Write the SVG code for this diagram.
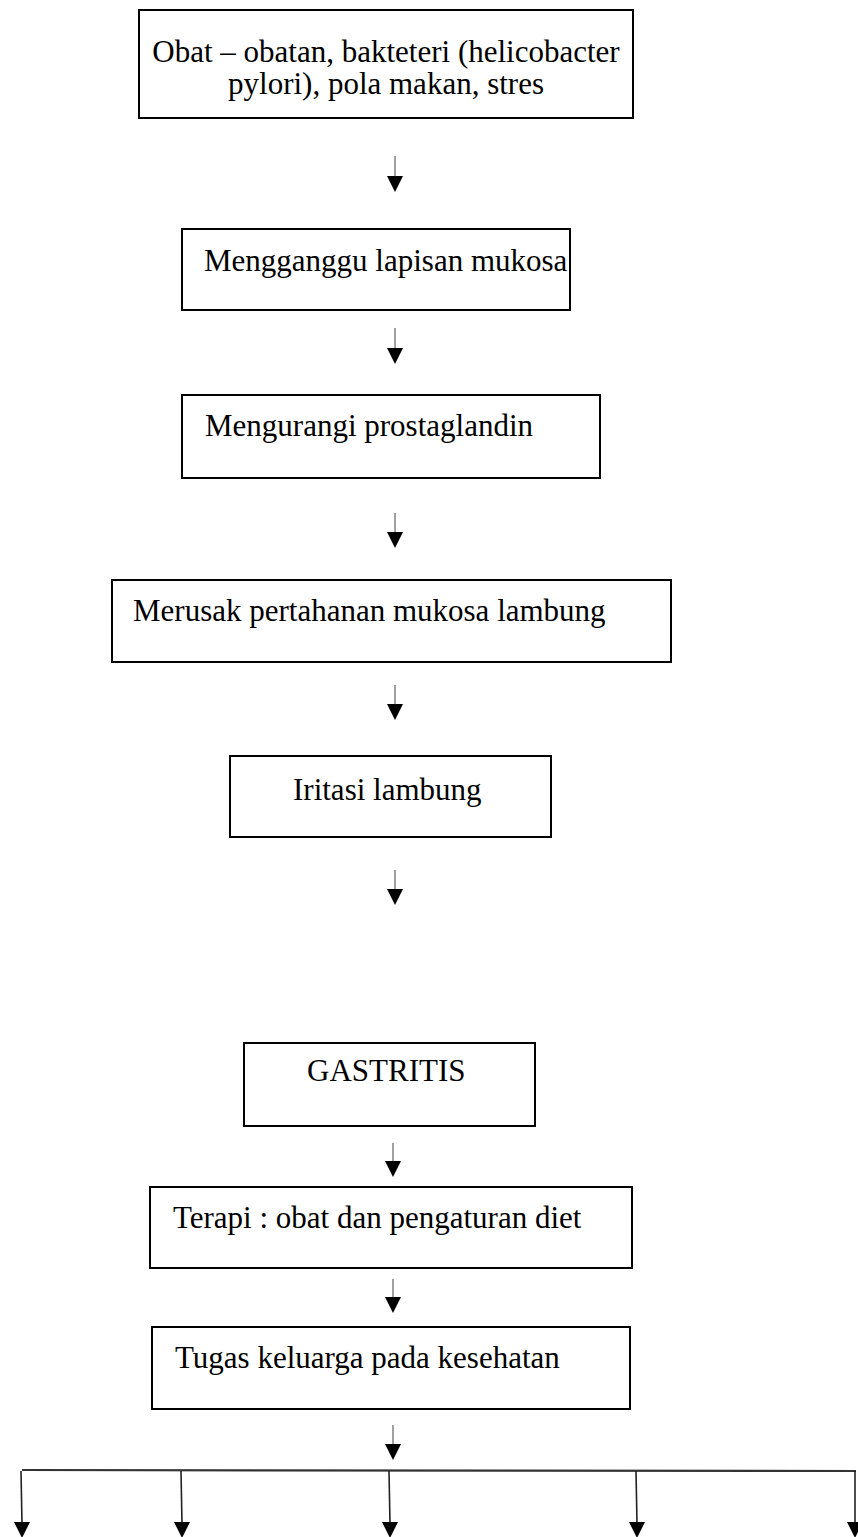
<svg xmlns="http://www.w3.org/2000/svg" width="858" height="1537" viewBox="0 0 858 1537">
<style>
.box{fill:#fff;stroke:#000;stroke-width:2}
.t{font-family:"Liberation Serif","Times New Roman",serif;font-size:31px;fill:#000}
.sh{stroke:#8a8a8a;stroke-width:1.6;fill:none}
.br{stroke:#222;stroke-width:1.6;fill:none}
.hl{stroke:#333;stroke-width:2.2;fill:none}
.hd{fill:#000}
</style>
<rect width="858" height="1537" fill="#fff"/>
<g id="n1"><rect class="box" x="139" y="10" width="494" height="108"/><text class="t" x="386" y="62" text-anchor="middle">Obat – obatan, bakteteri (helicobacter</text><text class="t" x="386" y="94" text-anchor="middle">pylori), pola makan, stres</text></g>
<g id="n2"><rect class="box" x="182" y="229" width="388" height="81"/><text class="t" x="204" y="271">Mengganggu lapisan mukosa</text></g>
<g id="n3"><rect class="box" x="182" y="395" width="418" height="83"/><text class="t" x="205" y="436">Mengurangi prostaglandin</text></g>
<g id="n4"><rect class="box" x="112" y="580" width="559" height="82"/><text class="t" x="133" y="621">Merusak pertahanan mukosa lambung</text></g>
<g id="n5"><rect class="box" x="230" y="756" width="321" height="81"/><text class="t" x="293" y="800">Iritasi lambung</text></g>
<g id="n6"><rect class="box" x="244" y="1043" width="291" height="83"/><text class="t" x="307" y="1081">GASTRITIS</text></g>
<g id="n7"><rect class="box" x="150" y="1187" width="482" height="81"/><text class="t" x="173" y="1228">Terapi : obat dan pengaturan diet</text></g>
<g id="n8"><rect class="box" x="152" y="1327" width="478" height="82"/><text class="t" x="175" y="1368">Tugas keluarga pada kesehatan</text></g>
<g id="connectors">
<line class="sh" x1="395" y1="156" x2="395" y2="176"/><path class="hd" d="M387,176 L403,176 L395,192 Z"/>
<line class="sh" x1="395" y1="328" x2="395" y2="348"/><path class="hd" d="M387,348 L403,348 L395,364 Z"/>
<line class="sh" x1="395" y1="513" x2="395" y2="532"/><path class="hd" d="M387,532 L403,532 L395,548 Z"/>
<line class="sh" x1="395" y1="685" x2="395" y2="704"/><path class="hd" d="M387,704 L403,704 L395,720 Z"/>
<line class="sh" x1="395" y1="870" x2="395" y2="889"/><path class="hd" d="M387,889 L403,889 L395,905 Z"/>
<line class="sh" x1="393" y1="1143" x2="393" y2="1161"/><path class="hd" d="M385,1161 L401,1161 L393,1177 Z"/>
<line class="sh" x1="393" y1="1279" x2="393" y2="1297"/><path class="hd" d="M385,1297 L401,1297 L393,1313 Z"/>
<line class="sh" x1="393" y1="1425" x2="393" y2="1444"/><path class="hd" d="M385,1444 L401,1444 L393,1460 Z"/>
<line class="hl" x1="22" y1="1470" x2="856" y2="1471"/>
<line class="br" x1="21" y1="1471" x2="22" y2="1524"/><path class="hd" d="M14,1522 L30,1522 L22,1538 Z"/>
<line class="br" x1="181" y1="1471" x2="182" y2="1524"/><path class="hd" d="M174,1522 L190,1522 L182,1538 Z"/>
<line class="br" x1="389" y1="1471" x2="390" y2="1524"/><path class="hd" d="M382,1522 L398,1522 L390,1538 Z"/>
<line class="br" x1="636" y1="1471" x2="637" y2="1524"/><path class="hd" d="M629,1522 L645,1522 L637,1538 Z"/>
<line class="br" x1="855" y1="1471" x2="855" y2="1524"/><path class="hd" d="M847,1522 L863,1522 L855,1538 Z"/>
</g>
</svg>
